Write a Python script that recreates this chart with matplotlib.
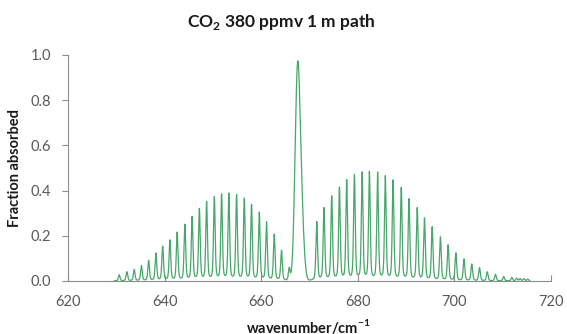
import numpy as np
import matplotlib
matplotlib.use("Agg")
import matplotlib.pyplot as plt

plt.rcParams['font.family'] = ['Lato', 'DejaVu Sans']

# P branch lines: position (cm-1) and peak fraction absorbed
p_centers = [630.6, 632.2, 633.7, 635.2, 636.7, 638.2, 639.6, 641.1, 642.6, 644.2,
             645.7, 647.2, 648.7, 650.3, 651.8, 653.3, 654.9, 656.5, 658.0, 659.6,
             661.1, 662.7, 664.2, 665.8]
p_peaks = [0.027, 0.040, 0.050, 0.067, 0.089, 0.121, 0.151, 0.178, 0.212, 0.246,
           0.280, 0.315, 0.345, 0.366, 0.378, 0.382, 0.376, 0.360, 0.333, 0.299,
           0.257, 0.203, 0.133, 0.055]

# Q branch
q_centers = [667.5, 668.3]
q_peaks = [0.88, 0.28]

# R branch lines
r_centers = [671.5, 673.0, 674.6, 676.2, 677.7, 679.3, 680.9, 682.4, 684.1, 685.7,
             687.3, 689.0, 690.6, 692.3, 693.8, 695.4, 697.1, 698.7, 700.3, 702.0,
             703.6, 705.2, 706.8, 708.5, 710.2, 711.9, 712.9, 713.6, 714.4, 715.2]
r_peaks = [0.259, 0.319, 0.370, 0.408, 0.441, 0.463, 0.474, 0.477, 0.474, 0.458,
           0.440, 0.408, 0.358, 0.319, 0.274, 0.236, 0.192, 0.157, 0.122, 0.096,
           0.074, 0.058, 0.040, 0.029, 0.019, 0.015, 0.012, 0.010, 0.010, 0.008]


def line_shape(x, c, h, w, eta):
    # pseudo-Voigt profile with half width w, peak height h
    d = (x - c) / w
    return h * ((1 - eta) * np.exp(-np.log(2) * d ** 2) + eta / (1 + d ** 2))


nu = np.arange(629.6, 715.6, 0.01)
absorbed = np.zeros_like(nu)
for c, h in zip(p_centers + r_centers, p_peaks + r_peaks):
    absorbed += line_shape(nu, c, h, 0.2, 0.4)
for c, h in zip(q_centers, q_peaks):
    absorbed += line_shape(nu, c, h, 0.6, 0.0)

fig = plt.figure(figsize=(5.67, 3.34), dpi=100)
ax = fig.add_axes([68 / 567, 1 - 281 / 334, (551 - 68) / 567, 226 / 334])

ax.plot(nu, absorbed, color='#47a66a', linewidth=0.9)

ax.set_xlim(620, 720)
ax.set_ylim(0, 1.0)
ax.set_xticks(np.arange(620, 721, 20))
ax.set_yticks(np.arange(0, 1.01, 0.2))
ax.yaxis.set_major_formatter(matplotlib.ticker.FormatStrFormatter('%.1f'))

for side in ['top', 'right']:
    ax.spines[side].set_visible(False)
for side in ['left', 'bottom']:
    ax.spines[side].set_color('#8c8c8c')
    ax.spines[side].set_linewidth(0.8)

ax.tick_params(axis='y', direction='out', length=4, width=0.8, color='#8c8c8c',
               labelsize=10.5, labelcolor='#595959', pad=8)
ax.tick_params(axis='x', direction='in', length=4, width=0.8, color='#8c8c8c',
               labelsize=10.5, labelcolor='#595959', pad=10)

fig.text(0.497, 1 - 22 / 334, 'CO$_\\mathregular{2}$ 380 ppmv 1 m path', ha='center', va='center',
         fontsize=12.5, fontweight='bold', color='#1a1a1a')
fig.text(15 / 567, 1 - 168 / 334, 'Fraction absorbed', rotation=90, ha='center', va='center',
         fontsize=10.5, fontweight='bold', color='#1a1a1a')
fig.text(308 / 567, 1 - 326 / 334, 'wavenumber/cm$^\\mathregular{-1}$', ha='center', va='center',
         fontsize=10.5, fontweight='bold', color='#1a1a1a')

fig.savefig('out.png', dpi=100)
